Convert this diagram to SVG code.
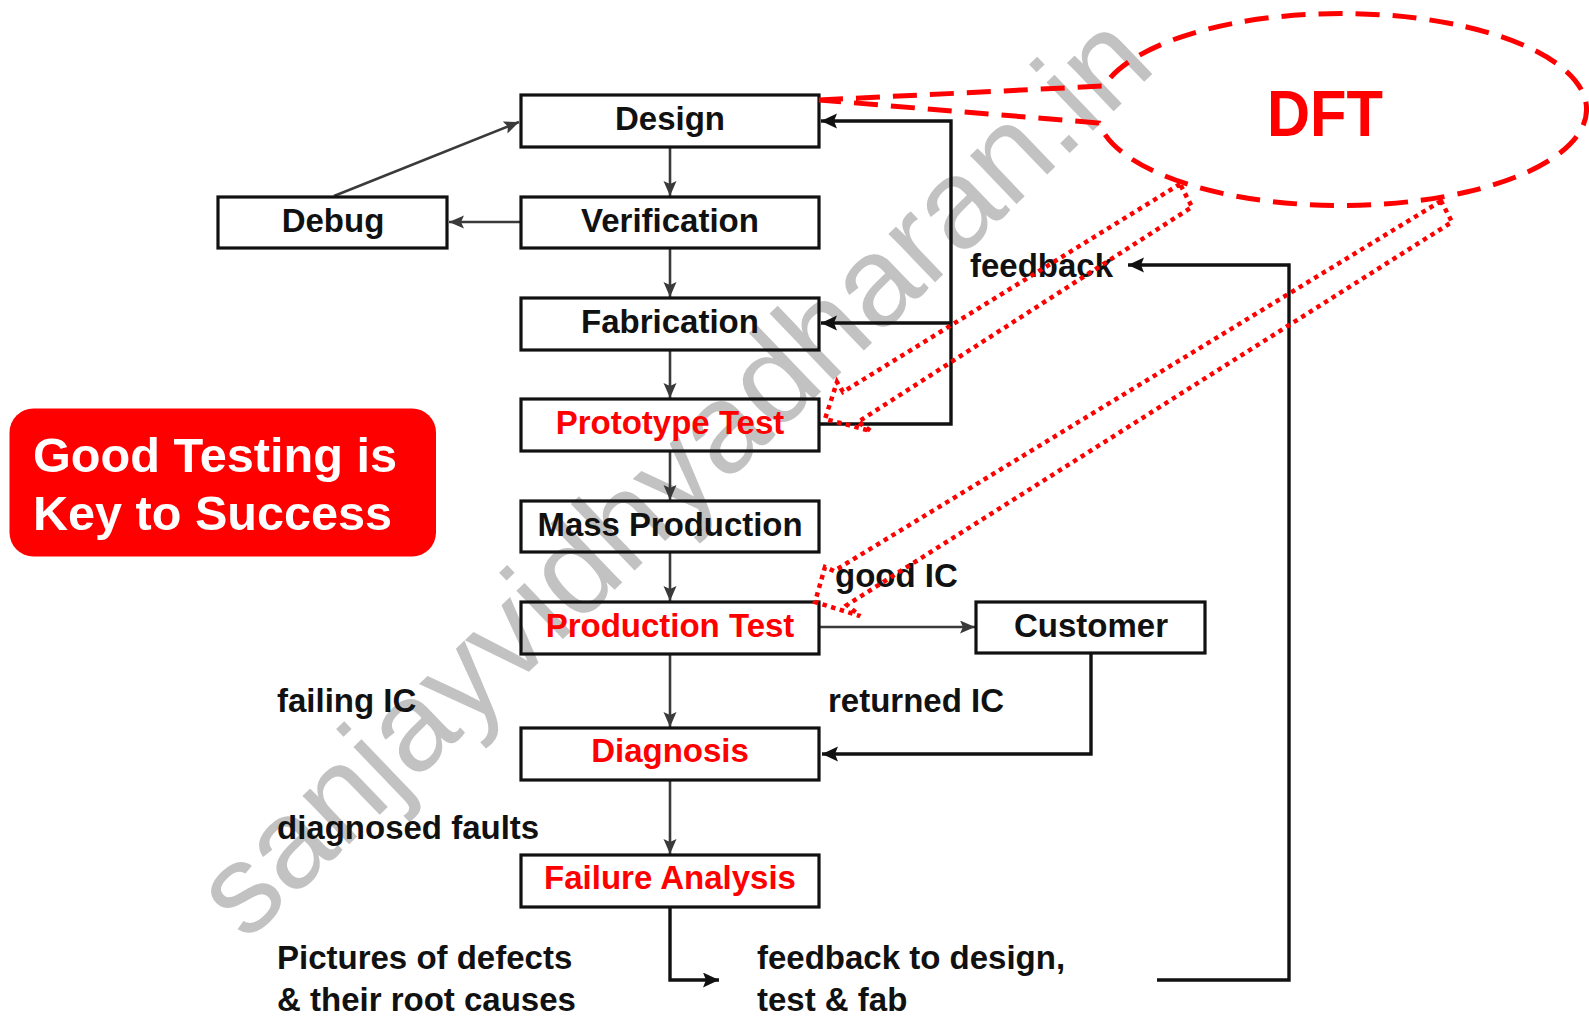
<svg xmlns="http://www.w3.org/2000/svg" width="1589" height="1017" viewBox="0 0 1589 1017">
  <style>
    .box { fill: none; stroke: #111; stroke-width: 3.2; }
    .lbl { font-family: "Liberation Sans", Arial, sans-serif; font-weight: bold; font-size: 33px; fill: #111; }
    .red { fill: #ff0000; }
    .mid { text-anchor: middle; }
    .thin { fill: none; stroke: #3a3a3a; stroke-width: 2.6; }
    .thick { fill: none; stroke: #111; stroke-width: 3.4; }
    .dots { fill: none; stroke: #ff0000; stroke-width: 4.5; stroke-dasharray: 4.5 4.5; stroke-linejoin: miter; }
    .dash { fill: none; stroke: #ff0000; stroke-width: 5; stroke-dasharray: 24 13; }
  </style>
  <defs>
    <marker id="headThin" markerUnits="userSpaceOnUse" markerWidth="17" markerHeight="15" refX="15" refY="6.5" orient="auto">
      <path d="M0,0 L15,6.5 L0,13 L3,6.5 z" fill="#3a3a3a"/>
    </marker>
    <marker id="headThick" markerUnits="userSpaceOnUse" markerWidth="18" markerHeight="16" refX="16" refY="7.5" orient="auto">
      <path d="M0,0 L16,7.5 L0,15 L3,7.5 z" fill="#111"/>
    </marker>
  </defs>

  <rect width="1589" height="1017" fill="#fff"/>

  <!-- watermark -->
  <text x="246" y="943" transform="rotate(-43.8 246 943)" font-family="Liberation Sans, Arial, sans-serif" font-size="127" fill="#c2c2c2">sanjayvidhyadharan.in</text>

  <!-- callout badge -->
  <g id="badge">
    <rect x="9.5" y="408.5" width="426.5" height="148" rx="24" fill="#ff0000"/>
    <text x="33" y="471.5" font-family="Liberation Sans, Arial, sans-serif" font-weight="bold" font-size="49" fill="#fff" textLength="364" lengthAdjust="spacingAndGlyphs">Good Testing is</text>
    <text x="33" y="530" font-family="Liberation Sans, Arial, sans-serif" font-weight="bold" font-size="49" fill="#fff" textLength="359" lengthAdjust="spacingAndGlyphs">Key to Success</text>
  </g>

  <!-- connectors -->
  <g id="connectors">
    <line class="thin" x1="670" y1="147" x2="670" y2="196" marker-end="url(#headThin)"/>
    <line class="thin" x1="670" y1="248" x2="670" y2="297" marker-end="url(#headThin)"/>
    <line class="thin" x1="670" y1="350" x2="670" y2="398" marker-end="url(#headThin)"/>
    <line class="thin" x1="670" y1="451" x2="670" y2="500" marker-end="url(#headThin)"/>
    <line class="thin" x1="670" y1="552" x2="670" y2="601" marker-end="url(#headThin)"/>
    <line class="thin" x1="670" y1="654" x2="670" y2="727" marker-end="url(#headThin)"/>
    <line class="thin" x1="670" y1="780" x2="670" y2="854" marker-end="url(#headThin)"/>
    <line class="thin" x1="521" y1="222" x2="449" y2="222" marker-end="url(#headThin)"/>
    <line class="thin" x1="334" y1="196" x2="519" y2="122" marker-end="url(#headThin)"/>
    <line class="thin" x1="820" y1="627" x2="975" y2="627" marker-end="url(#headThin)"/>

    <!-- prototype feedback loop -->
    <polyline class="thick" points="820,424 951,424 951,121 821,121" marker-end="url(#headThick)"/>
    <line class="thick" x1="951" y1="323" x2="821" y2="323" marker-end="url(#headThick)"/>

    <!-- returned IC -->
    <polyline class="thick" points="1091,654 1091,754 822,754" marker-end="url(#headThick)"/>

    <!-- failure analysis outputs -->
    <polyline class="thick" points="670,907 670,980 719,980" marker-end="url(#headThick)"/>
    <polyline class="thick" points="1157,980 1289,980 1289,265 1128,265" marker-end="url(#headThick)"/>
  </g>

  <!-- nodes -->
  <g id="design">
    <rect class="box" x="521" y="95" width="298" height="52"/>
    <text class="lbl mid" x="670" y="130">Design</text>
  </g>
  <g id="verification">
    <rect class="box" x="521" y="197" width="298" height="51"/>
    <text class="lbl mid" x="670" y="232">Verification</text>
  </g>
  <g id="debug">
    <rect class="box" x="218" y="197" width="229" height="51"/>
    <text class="lbl mid" x="333" y="232">Debug</text>
  </g>
  <g id="fabrication">
    <rect class="box" x="521" y="298" width="298" height="52"/>
    <text class="lbl mid" x="670" y="333">Fabrication</text>
  </g>
  <g id="prototype-test">
    <rect class="box" x="521" y="399" width="298" height="52"/>
    <text class="lbl mid red" x="670" y="434">Prototype Test</text>
  </g>
  <g id="mass-production">
    <rect class="box" x="521" y="501" width="298" height="51"/>
    <text class="lbl mid" x="670" y="536" textLength="265" lengthAdjust="spacingAndGlyphs">Mass Production</text>
  </g>
  <g id="production-test">
    <rect class="box" x="521" y="602" width="298" height="52"/>
    <text class="lbl mid red" x="670" y="637">Production Test</text>
  </g>
  <g id="customer">
    <rect class="box" x="976" y="602" width="229" height="51"/>
    <text class="lbl mid" x="1091" y="637">Customer</text>
  </g>
  <g id="diagnosis">
    <rect class="box" x="521" y="728" width="298" height="52"/>
    <text class="lbl mid red" x="670" y="762">Diagnosis</text>
  </g>
  <g id="failure-analysis">
    <rect class="box" x="521" y="855" width="298" height="52"/>
    <text class="lbl mid red" x="670" y="889">Failure Analysis</text>
  </g>

  <!-- edge labels -->
  <g id="labels">
    <text class="lbl" x="970" y="277">feedback</text>
    <text class="lbl" x="835" y="587">good IC</text>
    <text class="lbl" x="277" y="712">failing IC</text>
    <text class="lbl" x="828" y="712">returned IC</text>
    <text class="lbl" x="277" y="839">diagnosed faults</text>
    <text class="lbl" x="277" y="969">Pictures of defects</text>
    <text class="lbl" x="277" y="1011">&amp; their root causes</text>
    <text class="lbl" x="757" y="969">feedback to design,</text>
    <text class="lbl" x="757" y="1011">test &amp; fab</text>
  </g>

  <!-- DFT callout -->
  <g id="dft">
    <path class="dash" d="M819,100 L1104,86 A245,96 0 1,1 1099,123 Z"/>
    <text x="1325" y="136" text-anchor="middle" font-family="Liberation Sans, Arial, sans-serif" font-weight="bold" font-size="64" fill="#ff0000" textLength="116" lengthAdjust="spacingAndGlyphs">DFT</text>
    <polygon class="dots" points="1180,184 843,392 837,382 825,419 871,431 858,422 1192,207"/>
    <polygon class="dots" points="1441,201 834,571 825,567 815,602 860,616 847,605 1452,222"/>
  </g>
</svg>
